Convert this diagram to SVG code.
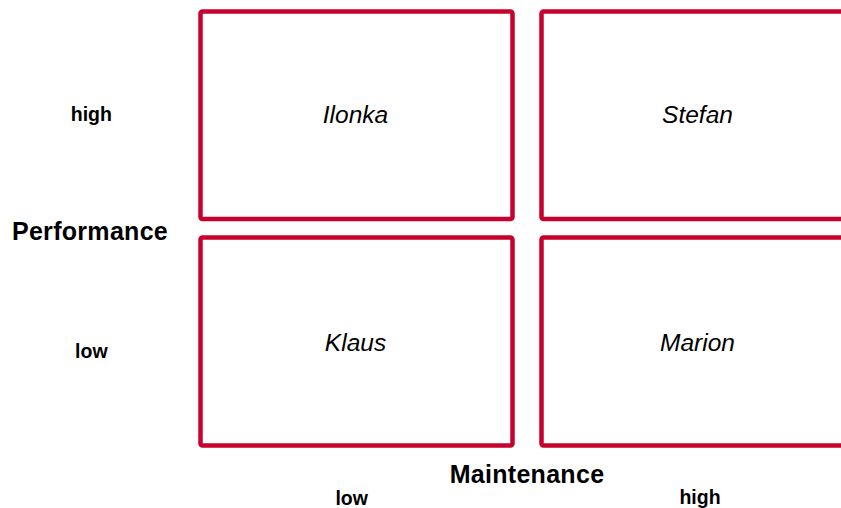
<svg xmlns="http://www.w3.org/2000/svg" width="841" height="508" viewBox="0 0 841 508">
<style>
.box{fill:#fff;stroke:#C8002E;stroke-width:4.5}
.name{font-family:"Liberation Sans",Arial,sans-serif;font-style:italic;font-size:24.5px;fill:#000;text-anchor:middle}
.axis{font-family:"Liberation Sans",Arial,sans-serif;font-weight:bold;font-size:25px;letter-spacing:0.3px;fill:#000;text-anchor:middle}
.tick{font-family:"Liberation Sans",Arial,sans-serif;font-weight:bold;font-size:19.5px;fill:#000;text-anchor:middle}
</style>
<rect width="841" height="508" fill="#fff"/>
<g id="connectors"></g>
<g id="ilonka"><rect class="box" x="200.5" y="11.5" width="312" height="207.5" rx="2"/><text class="name" x="355.5" y="123.3">Ilonka</text></g>
<g id="stefan"><rect class="box" x="541.5" y="11.5" width="312" height="207.5" rx="2"/><text class="name" x="697.5" y="123.3">Stefan</text></g>
<g id="klaus"><rect class="box" x="200.5" y="237.5" width="312" height="208" rx="2"/><text class="name" x="355.5" y="351">Klaus</text></g>
<g id="marion"><rect class="box" x="541.5" y="237.5" width="312" height="208" rx="2"/><text class="name" x="697.5" y="351">Marion</text></g>
<g id="labels">
<text class="axis" x="90" y="240">Performance</text>
<text class="axis" x="527" y="483.3">Maintenance</text>
<text class="tick" x="91.3" y="120.7">high</text>
<text class="tick" x="91.3" y="357.7">low</text>
<text class="tick" x="351.7" y="505">low</text>
<text class="tick" x="700" y="503.5">high</text>
</g>
</svg>
